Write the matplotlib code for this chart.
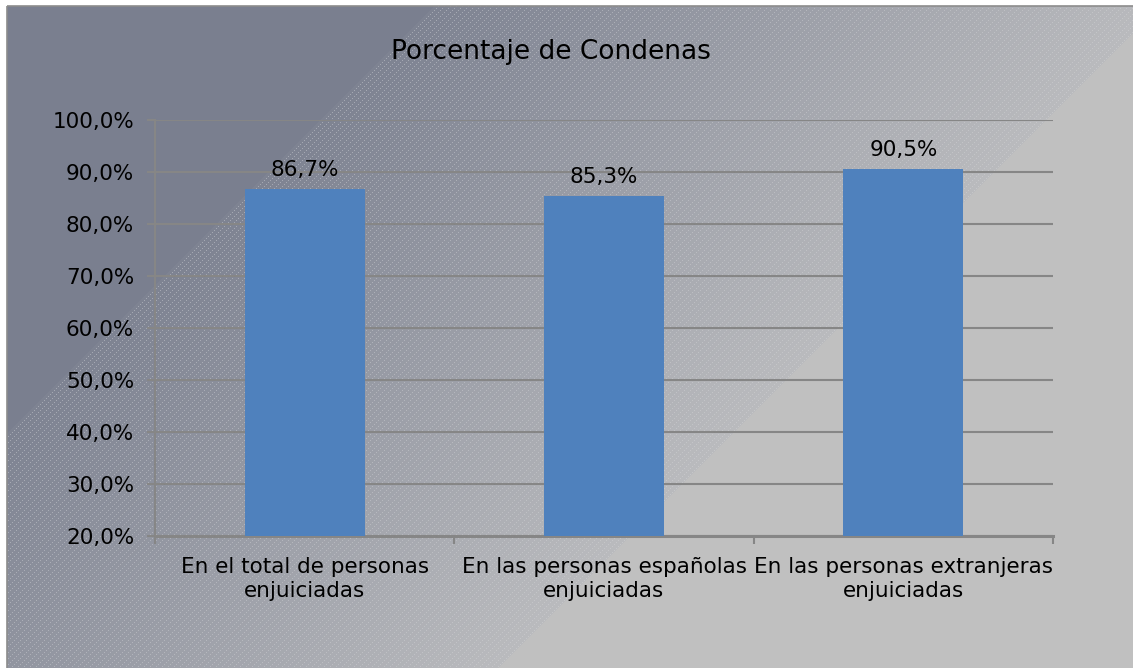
import matplotlib
matplotlib.use('Agg')
import matplotlib.pyplot as plt
import numpy as np
from matplotlib.patches import Rectangle

categories = ['En el total de personas\nenjuiciadas',
              'En las personas españolas\nenjuiciadas',
              'En las personas extranjeras\nenjuiciadas']
values = [86.7, 85.3, 90.5]
value_labels = ['86,7%', '85,3%', '90,5%']
yticks = [20, 30, 40, 50, 60, 70, 80, 90, 100]
ytick_labels = [f'{v},0%' for v in yticks]
title = 'Porcentaje de Condenas'

W, H = 1133, 668
plt.rcParams['font.family'] = ['DejaVu Sans']

fig = plt.figure(figsize=(W / 100, H / 100), dpi=100)

# background: dark corner, finely hatched gradient band, light corner
yy, xx = np.mgrid[0:H, 0:W]
t = xx + yy
dark = np.array([122, 127, 143]) / 255
band0 = np.array([126, 131, 146]) / 255
band1 = np.array([186, 187, 190]) / 255
light = np.array([192, 192, 192]) / 255
frac = np.clip((t - 440) / (1165 - 440), 0, 1)[..., None]
img = band0 + (band1 - band0) * frac
hatch = (((xx + yy) % 6) == 0) & ((yy % 2) == 0)
alpha = 0.30 - 0.12 * frac[..., 0]
img = np.where(hatch[..., None], img * (1 - alpha[..., None]) + alpha[..., None], img)
img = np.where((t < 440)[..., None], dark, img)
img = np.where((t > 1165)[..., None], light, img)
img[:6, :] = 1.0
img[:, :7] = 1.0

bg = fig.add_axes([0, 0, 1, 1], zorder=0)
bg.imshow(img, extent=(0, W, H, 0), aspect='auto', interpolation='nearest')
bg.add_patch(Rectangle((7, 6), W, H, fill=False, edgecolor='#8c8c8c', lw=1.2))
bg.set_xlim(0, W)
bg.set_ylim(H, 0)
bg.axis('off')

ax = fig.add_axes([155 / W, 1 - 536 / H, 898 / W, 416 / H], zorder=1)
ax.patch.set_alpha(0)
x = np.arange(len(values))
ax.bar(x, values, width=0.4, color='#4f81bd', zorder=3)
for xi, v, lab in zip(x, values, value_labels):
    ax.text(xi, v + 1.8, lab, ha='center', va='bottom', fontsize=15.5, color='#000000')

ax.set_xlim(-0.5, len(values) - 0.5)
ax.set_ylim(20, 100)
ax.set_yticks(yticks)
ax.set_yticklabels(ytick_labels, fontsize=15.5)
ax.set_xticks(x)
ax.set_xticklabels(categories, fontsize=15.5, linespacing=1.25)
ax.tick_params(axis='x', length=0, pad=15)
ax.tick_params(axis='y', length=6, width=1.5, color='#868686', pad=9)
ax.set_xticks(np.arange(len(values) + 1) - 0.5, minor=True)
ax.tick_params(axis='x', which='minor', length=6, width=1.5, color='#868686')
ax.yaxis.grid(True, color='#868686', lw=1.5, zorder=1)
ax.set_axisbelow(True)
for side in ['top', 'right']:
    ax.spines[side].set_visible(False)
ax.spines['left'].set_color('#868686')
ax.spines['left'].set_linewidth(1.5)
ax.spines['bottom'].set_color('#868686')
ax.spines['bottom'].set_linewidth(2.2)

fig.text(551 / W, 1 - 52 / H, title, ha='center', va='center', fontsize=19)

fig.savefig('out.png', dpi=100)
